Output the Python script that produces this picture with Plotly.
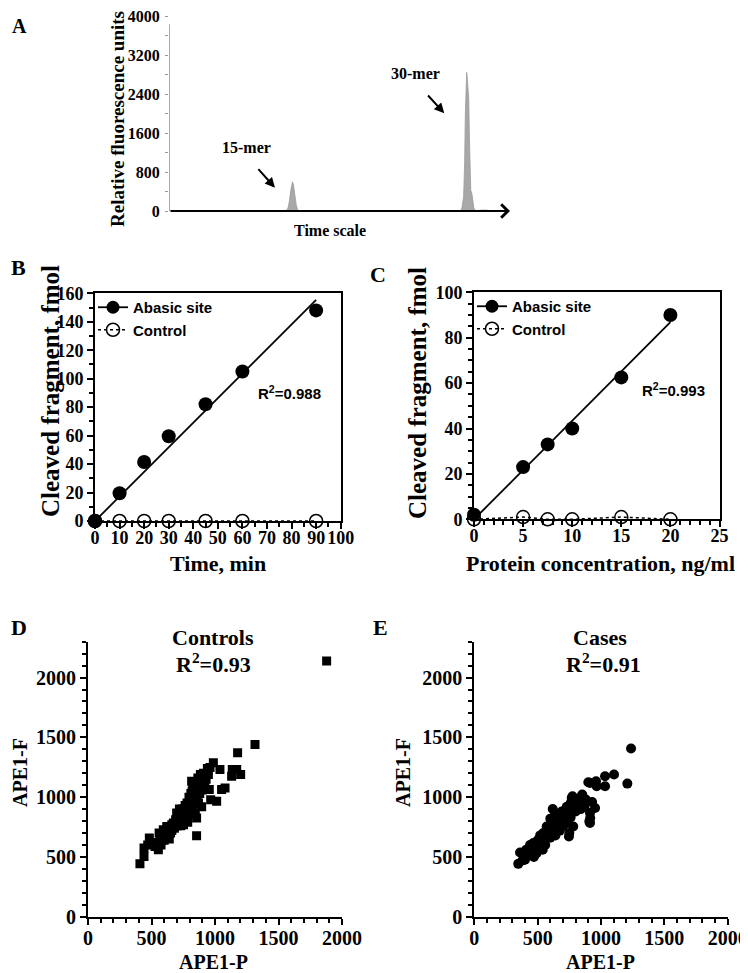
import plotly.graph_objects as go

# The page body has an 8px default margin: size the figure to the visible area
OFF = 8
W, H = 748 - OFF, 973 - OFF
def PX(x): return (x - OFF) / W
def PY(y): return 1 - (y - OFF) / H

# ---------------- data ----------------
# Panel A (chromatogram, arbitrary time units)
a_time = [0, 34.4, 34.9, 35.3, 35.7, 36.0, 36.2, 36.5, 36.9, 37.3, 37.7, 38.1,
          85.5, 85.9, 86.4, 86.7, 86.9, 87.1, 87.3, 87.5, 87.7, 87.9, 88.1, 88.3,
          88.5, 88.8, 89.1, 89.4, 89.8, 90.5, 91.5, 92.5, 93.5, 94.5]
a_rfu = [0, 0, 60, 200, 420, 570, 600, 540, 330, 130, 30, 0,
         0, 60, 300, 1000, 2000, 2600, 2850, 2700, 2400, 2300, 1500, 700,
         420, 370, 220, 60, 10, 15, 25, 20, 15, 0]
a_yticks = [0, 800, 1600, 2400, 3200, 4000]

# Panel B
b_time = [0, 10, 20, 30, 45, 60, 90]
b_abasic = [0, 19.5, 41.5, 59.5, 82, 105, 148]
b_control = [0, 0, 0, 0, 0, 0, 0]

# Panel C
c_conc = [0, 5, 7.5, 10, 15, 20]
c_abasic = [2, 23, 33, 40, 62.5, 90]
c_control = [0, 1, 0, 0, 1, 0]

# Panel D (Controls)
d_p = [409, 441, 441, 483, 528, 554, 540, 567, 580, 593, 605, 620, 610, 635, 650, 660, 672, 680, 690, 698,
       705, 715, 720, 728, 735, 740, 745, 752, 758, 765, 770, 775, 780, 785, 790, 795, 800, 805, 810, 815,
       820, 825, 816, 830, 835, 840, 845, 850, 855, 855, 860, 865, 870, 875, 880, 885, 890, 895, 900, 910,
       920, 930, 940, 948, 955, 961, 966, 987, 1013, 1039, 1052, 1079, 1131, 1136, 1171, 1178, 1202, 1315, 1879,
       620, 660, 700, 730, 750, 690, 640, 575, 600, 510, 470, 560, 760, 800, 780, 720, 840, 870, 900, 820]
d_f = [443, 503, 574, 658, 587, 560, 620, 671, 640, 727, 690, 755, 660, 720, 700, 770, 783, 740, 810, 867,
       760, 830, 790, 880, 850, 800, 900, 770, 860, 930, 820, 880, 950, 790, 900, 1000, 860, 940, 1030, 890,
       980, 1100, 1133, 940, 1060, 1010, 870, 1120, 825, 677, 1000, 1160, 950, 1080, 1030, 1190, 1130, 920, 1060, 1200,
       1110, 1150, 1240, 1190, 1063, 1248, 979, 1287, 965, 1231, 1063, 1077, 1175, 1231, 1231, 1371, 1189, 1440, 2139,
       700, 720, 800, 760, 840, 760, 650, 600, 640, 610, 600, 700, 900, 980, 850, 900, 950, 1100, 1160, 1050]

# Panel E (Cases)
e_p = [347, 361, 380, 400, 410, 430, 440, 450, 466, 470, 480, 492, 500, 510, 520, 530, 545, 550, 560, 571,
       580, 590, 600, 605, 610, 619, 620, 625, 630, 640, 645, 650, 655, 660, 665, 670, 675, 680, 685, 690,
       695, 700, 705, 710, 720, 725, 730, 740, 747, 750, 760, 761, 769, 775, 775, 781, 790, 800, 810, 820,
       830, 848, 852, 860, 870, 880, 900, 908, 913, 915, 913, 913, 930, 953, 961, 966, 1032, 1032, 1103, 1208, 1237,
       600, 615, 635, 660, 690, 700, 720, 740, 560, 580, 520, 540, 460, 500, 640, 670, 650, 760, 800, 840]
e_f = [442, 537, 470, 476, 560, 520, 600, 550, 616, 500, 580, 532, 640, 600, 680, 620, 700, 650, 600, 755,
       690, 720, 660, 780, 740, 901, 700, 810, 760, 680, 830, 790, 740, 860, 800, 770, 720, 850, 820, 790,
       760, 880, 840, 800, 860, 780, 920, 830, 671, 700, 880, 951, 993, 1007, 900, 755, 930, 880, 960, 900,
       940, 1007, 1021, 960, 920, 980, 1124, 797, 784, 825, 868, 1119, 960, 909, 1133, 1091, 1091, 1174, 1189, 1113, 1407,
       820, 770, 850, 720, 880, 760, 830, 900, 660, 750, 600, 560, 540, 580, 800, 830, 710, 830, 950, 900]

# ---------------- styles ----------------
SERIF = "Liberation Serif"
SANS = "Liberation Sans"
def bfont(size, fam=SERIF):
    return dict(family=fam, size=size, color="black", weight="bold")

def through_origin(x, y):
    sxy = sum(a * b for a, b in zip(x, y))
    sxx = sum(a * a for a in x)
    s = sxy / sxx
    fx = [0, max(x)]
    return fx, [s * v for v in fx]

fig = go.Figure()

# Panel A
fig.add_trace(go.Scatter(x=a_time, y=a_rfu, mode="lines", fill="tozeroy",
                         line=dict(color="#9a9a9a", width=0.8), fillcolor="#a8a8a8",
                         xaxis="x", yaxis="y", showlegend=False, hoverinfo="skip"))

def dose_panel(xv, yab, yctl, xa, ya, leg):
    fx, fy = through_origin(xv, yab)
    fig.add_trace(go.Scatter(x=xv, y=yctl, mode="lines+markers", name="Control",
                             line=dict(color="black", width=1.5, dash="dot"),
                             marker=dict(symbol="circle-open", size=13, color="black", line=dict(width=1.5)),
                             xaxis=xa, yaxis=ya, legend=leg, legendrank=2, cliponaxis=False))
    # regression line; its (hidden) markers give the legend symbol "line + dot"
    fig.add_trace(go.Scatter(x=fx, y=fy, mode="lines+markers", name="Abasic site",
                             line=dict(color="black", width=1.8),
                             marker=dict(size=13, color="black"),
                             selectedpoints=[], unselected=dict(marker=dict(opacity=0)),
                             xaxis=xa, yaxis=ya, legend=leg, legendrank=1, cliponaxis=False))
    fig.add_trace(go.Scatter(x=xv, y=yab, mode="markers", name="Abasic site",
                             marker=dict(size=14, color="black"), showlegend=False,
                             xaxis=xa, yaxis=ya, cliponaxis=False))

dose_panel(b_time, b_abasic, b_control, "x2", "y2", "legend")
dose_panel(c_conc, c_abasic, c_control, "x3", "y3", "legend2")

# Panel D
fig.add_trace(go.Scatter(x=d_p, y=d_f, mode="markers", marker=dict(symbol="square", size=9, color="black"),
                         xaxis="x4", yaxis="y4", showlegend=False))
# Panel E
fig.add_trace(go.Scatter(x=e_p, y=e_f, mode="markers", marker=dict(symbol="circle", size=10, color="black"),
                         xaxis="x5", yaxis="y5", showlegend=False))

def dom_x(a, b): return [PX(a), PX(b)]
def dom_y(bot, top): return [PY(bot), PY(top)]

box_axis = dict(showline=True, linecolor="black", linewidth=2, mirror=True, ticks="outside",
                ticklen=6, tickwidth=2, tickcolor="black", showgrid=False, zeroline=False)
open_axis = dict(showline=True, linecolor="black", linewidth=2, mirror=False, ticks="outside",
                 ticklen=6, tickwidth=2, tickcolor="black", showgrid=False, zeroline=False)
def minor(dt):
    return dict(dtick=dt, ticks="outside", ticklen=4, tickwidth=2, tickcolor="black")

layout = dict(
    width=W, height=H, margin=dict(l=0, r=0, t=0, b=0),
    paper_bgcolor="white", plot_bgcolor="white", template="none",
    # A
    xaxis=dict(domain=dom_x(169, 510), range=[0, 100], showline=False, showticklabels=False,
               ticks="", showgrid=False, zeroline=False),
    yaxis=dict(domain=dom_y(211, 16.5), range=[0, 4000], tickvals=a_yticks, showline=False,
               ticks="outside", ticklen=5, tickcolor="rgba(0,0,0,0)", showgrid=False, zeroline=False,
               tickfont=bfont(16), anchor="x",
               minor=dict(dtick=400, ticks="outside", ticklen=3, tickcolor="#999", tickwidth=1)),
    # B
    xaxis2=dict(domain=dom_x(95, 340.7), range=[0, 100], dtick=10, anchor="y2",
                tickfont=bfont(18), minor=minor(5), **box_axis),
    yaxis2=dict(domain=dom_y(521, 293.3), range=[0, 160], dtick=20, anchor="x2",
                tickfont=bfont(18), minor=minor(10), **box_axis),
    # C
    xaxis3=dict(domain=dom_x(474, 719.5), range=[0, 25], dtick=5, anchor="y3",
                tickfont=bfont(18), minor=minor(1), **box_axis),
    yaxis3=dict(domain=dom_y(519.3, 292.3), range=[0, 100], dtick=20, anchor="x3",
                tickfont=bfont(18), minor=minor(5), **box_axis),
    # D
    xaxis4=dict(domain=dom_x(88, 342), range=[0, 2000], dtick=500, anchor="y4",
                tickfont=bfont(20), minor=minor(100), **open_axis),
    yaxis4=dict(domain=dom_y(916.7, 641.7), range=[0, 2300], tickvals=[0, 500, 1000, 1500, 2000], anchor="x4",
                tickfont=bfont(20), minor=minor(100), **open_axis),
    # E
    xaxis5=dict(domain=dom_x(474.3, 727.7), range=[0, 2000], dtick=500, anchor="y5",
                tickfont=bfont(20), minor=minor(100), **open_axis),
    yaxis5=dict(domain=dom_y(916.7, 641.7), range=[0, 2300], tickvals=[0, 500, 1000, 1500, 2000], anchor="x5",
                tickfont=bfont(20), minor=minor(100), **open_axis),
    legend=dict(x=PX(93), y=PY(291), xanchor="left", yanchor="top", bgcolor="rgba(0,0,0,0)",
                font=bfont(15, SANS), tracegroupgap=0),
    legend2=dict(x=PX(472), y=PY(290), xanchor="left", yanchor="top", bgcolor="rgba(0,0,0,0)",
                 font=bfont(15, SANS), tracegroupgap=0),
)
fig.update_layout(**layout)

# bring x tick labels a little closer to the axis, as in the reference
try:
    fig.update_layout(xaxis2_ticklabelstandoff=-7, xaxis3_ticklabelstandoff=-7,
                      xaxis4_ticklabelstandoff=-4, xaxis5_ticklabelstandoff=-4)
except ValueError:
    pass

# A: y axis line (stops below the top label) and arrowed time axis
fig.add_shape(type="line", xref="x", yref="y", x0=0, x1=0, y0=0, y1=3840,
              line=dict(color="#555", width=1))

ann = []
ann.append(dict(xref="x", yref="y", x=100, y=0, axref="x", ayref="y", ax=0, ay=0, text="",
                showarrow=True, arrowhead=4, arrowsize=1.3, arrowwidth=2, arrowcolor="black"))

def T(text, x, y, size, fam=SERIF, angle=0, xa="center"):
    ann.append(dict(xref="paper", yref="paper", x=PX(x), y=PY(y), text=text, showarrow=False,
                    font=bfont(size, fam), textangle=angle, xanchor=xa, yanchor="middle"))

# A texts
T("A", 10, 26, 20, xa="left")
T("Relative fluorescence units", 117, 119, 19, angle=-90)
T("Time scale", 330, 230, 16)
T("15-mer", 247, 148, 16)
T("30-mer", 415, 74, 16)
ann.append(dict(xref="paper", yref="paper", x=PX(275), y=PY(187.7), ax=-18, ay=-20, text="",
                showarrow=True, arrowhead=2, arrowsize=1, arrowwidth=2, arrowcolor="black"))
ann.append(dict(xref="paper", yref="paper", x=PX(444.3), y=PY(113.3), ax=-17.6, ay=-19.3, text="",
                showarrow=True, arrowhead=2, arrowsize=1, arrowwidth=2, arrowcolor="black"))

# B / C texts
T("B", 9, 267, 22, xa="left")
T("C", 378, 275, 22)
T("Cleaved fragment, fmol", 50, 391, 25, angle=-90)
T("Cleaved fragment, fmol", 417, 393, 25, angle=-90)
T("Time, min", 218, 563, 22)
T("Protein concentration, ng/ml", 600, 563, 22)
ann.append(dict(xref="x2", yref="y2", x=79, y=90.6, text="R<sup>2</sup>=0.988", showarrow=False,
                font=bfont(15, SANS)))
ann.append(dict(xref="x3", yref="y3", x=20.3, y=57, text="R<sup>2</sup>=0.993", showarrow=False,
                font=bfont(15, SANS)))

# D / E texts
T("D", 9, 627, 22, xa="left")
T("E", 380, 627, 22)
T("Controls", 213, 637, 22)
T("R<sup>2</sup>=0.93", 213, 663, 22)
T("Cases", 600, 637, 22)
T("R<sup>2</sup>=0.91", 603, 663, 22)
T("APE1-F", 20, 773, 20, angle=-90)
T("APE1-F", 403, 773, 20, angle=-90)
T("APE1-P", 213, 962, 20)
T("APE1-P", 600, 962, 20)

fig.update_layout(annotations=ann)
fig.write_html("out.html")
